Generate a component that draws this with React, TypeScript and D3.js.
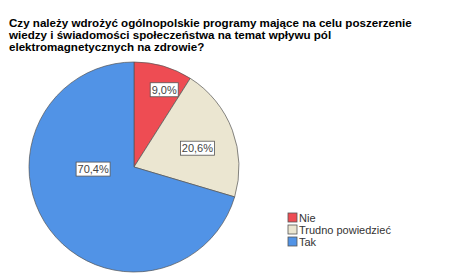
import React from "react";
import * as d3 from "d3";

const titleLines = [
  "Czy należy wdrożyć ogólnopolskie programy mające na celu poszerzenie",
  "wiedzy i świadomości społeczeństwa na temat wpływu pól",
  "elektromagnetycznych na zdrowie?",
];
const categories = ["Nie", "Trudno powiedzieć", "Tak"];
const values = [9.0, 20.6, 70.4];
const colors = ["#ee4c53", "#ebe6d1", "#5193e6"];

// label placement: share of radius and angular nudge from the slice middle
const labelRadius = [0.79, 0.63, 0.39];
const labelShift = [0.09, 0.07, 0.59];

const App = () => {
  const width = 464;
  const height = 279;
  const cx = 134;
  const cy = 167;
  const r = 105;

  const pie = d3
    .pie<number>()
    .sort(null)
    .value((d) => d);
  const arcs = pie(values);
  const arc = d3.arc<d3.PieArcDatum<number>>().innerRadius(0).outerRadius(r);

  const fmt = (v: number) => v.toFixed(1).replace(".", ",") + "%";

  return (
    <svg
      width={width}
      height={height}
      style={{ position: "absolute", left: 0, top: 0, background: "#fff" }}
      fontFamily="'Liberation Sans', Arial, sans-serif"
    >
      {titleLines.map((t, i) => (
        <text key={i} x={9} y={26.5 + i * 12} fontSize={11.6} fontWeight="bold" fill="#000">
          {t}
        </text>
      ))}

      <g transform={`translate(${cx},${cy})`}>
        {arcs.map((a, i) => (
          <path key={i} d={arc(a) || ""} fill={colors[i]} stroke="#555" strokeWidth={0.7} />
        ))}
        {arcs.map((a, i) => {
          const mid = (a.startAngle + a.endAngle) / 2 + labelShift[i];
          const lr = r * labelRadius[i];
          const x = Math.sin(mid) * lr;
          const y = -Math.cos(mid) * lr;
          const label = fmt(values[i]);
          const w = label.length * 6 + 4;
          return (
            <g key={"l" + i} transform={`translate(${x},${y})`}>
              <rect x={-w / 2} y={-7} width={w} height={14} fill="#fff" stroke="#555" strokeWidth={0.8} />
              <text textAnchor="middle" y={4} fontSize={11} fill="#444">
                {label}
              </text>
            </g>
          );
        })}
      </g>

      <g transform="translate(288,213)">
        {categories.map((c, i) => (
          <g key={c} transform={`translate(0,${i * 12})`}>
            <rect width={9} height={9} fill={colors[i]} stroke="#555" strokeWidth={0.8} />
            <text x={11} y={9} fontSize={11} fill="#333">
              {c}
            </text>
          </g>
        ))}
      </g>
    </svg>
  );
};

export default App;
